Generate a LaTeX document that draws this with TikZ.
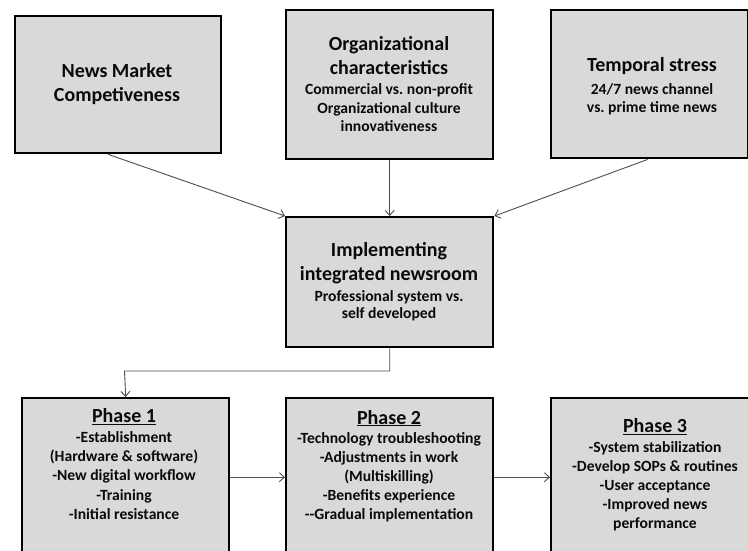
\documentclass[tikz,border=0pt]{standalone}
\usepackage{fontspec}
\setmainfont{Carlito}
\usetikzlibrary{arrows.meta,calc}
\definecolor{boxfill}{HTML}{D9D9D9}
\definecolor{conncol}{HTML}{4D4D4D}
\definecolor{txtcol}{HTML}{0A0A0A}
\begin{document}
\begin{tikzpicture}[x=1pt,y=-1pt,
  box/.style={draw=black, line width=2.4pt, fill=boxfill, inner sep=0pt, rectangle, anchor=north west},
  ttl/.style={font=\fontsize{20}{24}\selectfont\bfseries, align=center, inner sep=0pt, text=txtcol, anchor=base},
  bdy/.style={font=\fontsize{15.6}{19}\selectfont\bfseries, align=center, inner sep=0pt, text=txtcol, anchor=base},
  conn/.style={draw=conncol, line width=0.9pt, -{Straight Barb[length=5pt,width=9pt]}},
]
\path[use as bounding box] (0,0) rectangle (748,550);
\clip (0,0) rectangle (748,550);

% boxes
\node[box, minimum width=206pt, minimum height=137pt] (market) at (14,15) {};
\node[box, minimum width=207pt, minimum height=149pt] (org) at (285,9) {};
\node[box, minimum width=197pt, minimum height=148pt] (temporal) at (550,9) {};
\node[box, minimum width=207pt, minimum height=130pt] (impl) at (285,216) {};
\node[box, minimum width=207pt, minimum height=158pt] (phase1) at (21,397) {};
\node[box, minimum width=207pt, minimum height=158pt] (phase2) at (285,397) {};
\node[box, minimum width=220pt, minimum height=158pt] (phase3) at (550,397) {};

% texts (anchor base = baseline of the last line)
\node[ttl] (marketT) at (117,101.7) {News Market\\Competiveness};
\node[ttl] (orgT) at (389,74) {Organizational\\characteristics};
\node[bdy, font=\fontsize{15.6}{18.4}\selectfont\bfseries] (orgB) at (389,131.7) {Commercial vs.\ non-profit\\Organizational culture\\innovativeness};
\node[ttl] (tempT) at (652,71.7) {Temporal stress};
\node[bdy, font=\fontsize{15.6}{18.7}\selectfont\bfseries] (tempB) at (652,112.7) {24/7 news channel\\vs.\ prime time news};
\node[ttl] (implT) at (389,280.7) {Implementing\\integrated newsroom};
\node[bdy, font=\fontsize{15.6}{17}\selectfont\bfseries] (implB) at (389,318.5) {Professional system vs.\\self developed};

\node[ttl] (p1T) at (124,422.7) {\underline{Phase 1}};
\node[bdy, font=\fontsize{15.6}{19.2}\selectfont\bfseries] (p1B) at (124,519.3) {-Establishment\\(Hardware \& software)\\-New digital workflow\\-Training\\-Initial resistance};
\node[ttl] (p2T) at (389,424) {\underline{Phase 2}};
\node[bdy, font=\fontsize{15.6}{19}\selectfont\bfseries] (p2B) at (389,519) {-Technology troubleshooting\\-Adjustments in work\\(Multiskilling)\\-Benefits experience\\-{}-Gradual implementation};
\node[ttl] (p3T) at (655,432.7) {\underline{Phase 3}};
\node[bdy, font=\fontsize{15.6}{18.9}\selectfont\bfseries] (p3B) at (655,528.3) {-System stabilization\\-Develop SOPs \& routines\\-User acceptance\\-Improved news\\performance};

% connectors
\coordinate (turn) at (124.5,371);
\draw[conn] ($(market.south)+(-10,0)$) -- (impl.north west);
\draw[conn] (org.south) -- (impl.north);
\draw[conn] ($(temporal.south)+(-2,0)$) -- (impl.north east);
\draw[conn] (impl.south) |- (turn) -- (phase1.north);
\draw[conn] (phase1.east) -- (phase2.west);
\draw[conn] (phase2.east) -- (phase3.west);
\end{tikzpicture}
\end{document}
